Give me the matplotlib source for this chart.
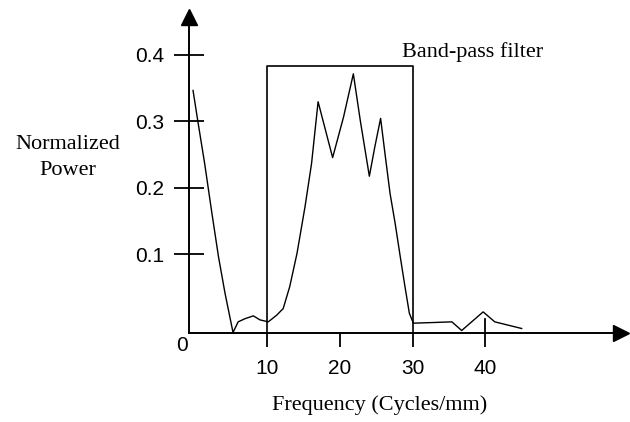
import matplotlib
matplotlib.use("Agg")
import matplotlib.pyplot as plt

# spectrum
freq = [-0.2, 0.5, 1.4, 2.4, 3.3, 4.2, 5.3, 6.0, 7.0, 8.1, 9.0, 10.15, 11.3, 12.2,
        13.1, 14.1, 15.2, 16.1, 17.0, 19.0, 20.5, 21.85, 22.8, 24.05, 24.8, 25.6,
        26.2, 26.9, 27.6, 28.3, 28.95, 29.55, 30.1, 32.85, 35.4, 36.75, 39.7,
        41.3, 45.0]
power = [0.346, 0.297, 0.236, 0.161, 0.096, 0.041, -0.018, -0.002, 0.003, 0.007,
         0.001, -0.002, 0.008, 0.018, 0.051, 0.101, 0.171, 0.236, 0.329, 0.245,
         0.306, 0.371, 0.301, 0.217, 0.261, 0.304, 0.251, 0.191, 0.146, 0.096,
         0.051, 0.011, -0.004, -0.003, -0.002, -0.015, 0.013, -0.002, -0.012]

band = [10, 30]
band_top = 0.383
xticks = [10, 20, 30, 40]
yticks = [0.1, 0.2, 0.3, 0.4]
ytick_labels = ["0.1", "0.2", "0.3", "0.4"]

x0 = -0.76      # where the vertical axis sits
y0 = -0.019     # where the horizontal axis sits

sans = "Liberation Sans"
serif = "Liberation Serif"

fig = plt.figure(figsize=(6.3, 4.22), dpi=100)
ax = fig.add_axes([0, 0, 1, 1])
ax.set_xlim(-26.75, 59.9)
ax.set_ylim(-0.1526, 0.482)
ax.patch.set_alpha(0)

# axes as spines crossing near the origin
for s in ["top", "right"]:
    ax.spines[s].set_visible(False)
ax.spines["left"].set_position(("data", x0))
ax.spines["bottom"].set_position(("data", y0))
ax.spines["left"].set_bounds(y0, 0.45)
ax.spines["bottom"].set_bounds(x0, 57.5)
for s in ["left", "bottom"]:
    ax.spines[s].set_linewidth(1.4)

ax.plot(x0, 0.456, marker="^", color="black", markersize=11, clip_on=False)
ax.plot(58.6, y0, marker=">", color="black", markersize=11, clip_on=False)

ax.set_yticks(yticks)
ax.set_yticklabels(ytick_labels, fontfamily=sans, fontsize=15)
ax.tick_params(axis="y", direction="inout", length=21.6, width=1.3, pad=7)
ax.set_xticks(xticks)
ax.set_xticklabels([str(t) for t in xticks], fontfamily=sans, fontsize=15)
ax.tick_params(axis="x", direction="out", length=10, width=1.3, pad=8.5)
ax.plot([xticks[-1], xticks[-1]], [y0, 0.002], color="black", lw=1.3)
ax.text(-1.72, -0.037, "0", fontfamily=sans, fontsize=15, ha="center", va="center")

# band-pass box
ax.plot([band[0], band[0], band[1], band[1]], [y0, band_top, band_top, y0],
        color="black", lw=1.2)

ax.plot(freq, power, color="black", lw=1.0)

ax.text(28.5, 0.396, "Band-pass filter", fontfamily=serif, fontsize=16, va="baseline")
ax.text(-17.4, 0.245, "Normalized\nPower", fontfamily=serif, fontsize=16,
        ha="center", va="center", linespacing=1.55)
ax.text(25.5, -0.135, "Frequency (Cycles/mm)", fontfamily=serif, fontsize=16,
        ha="center", va="baseline")

fig.savefig("out.png", dpi=100)
